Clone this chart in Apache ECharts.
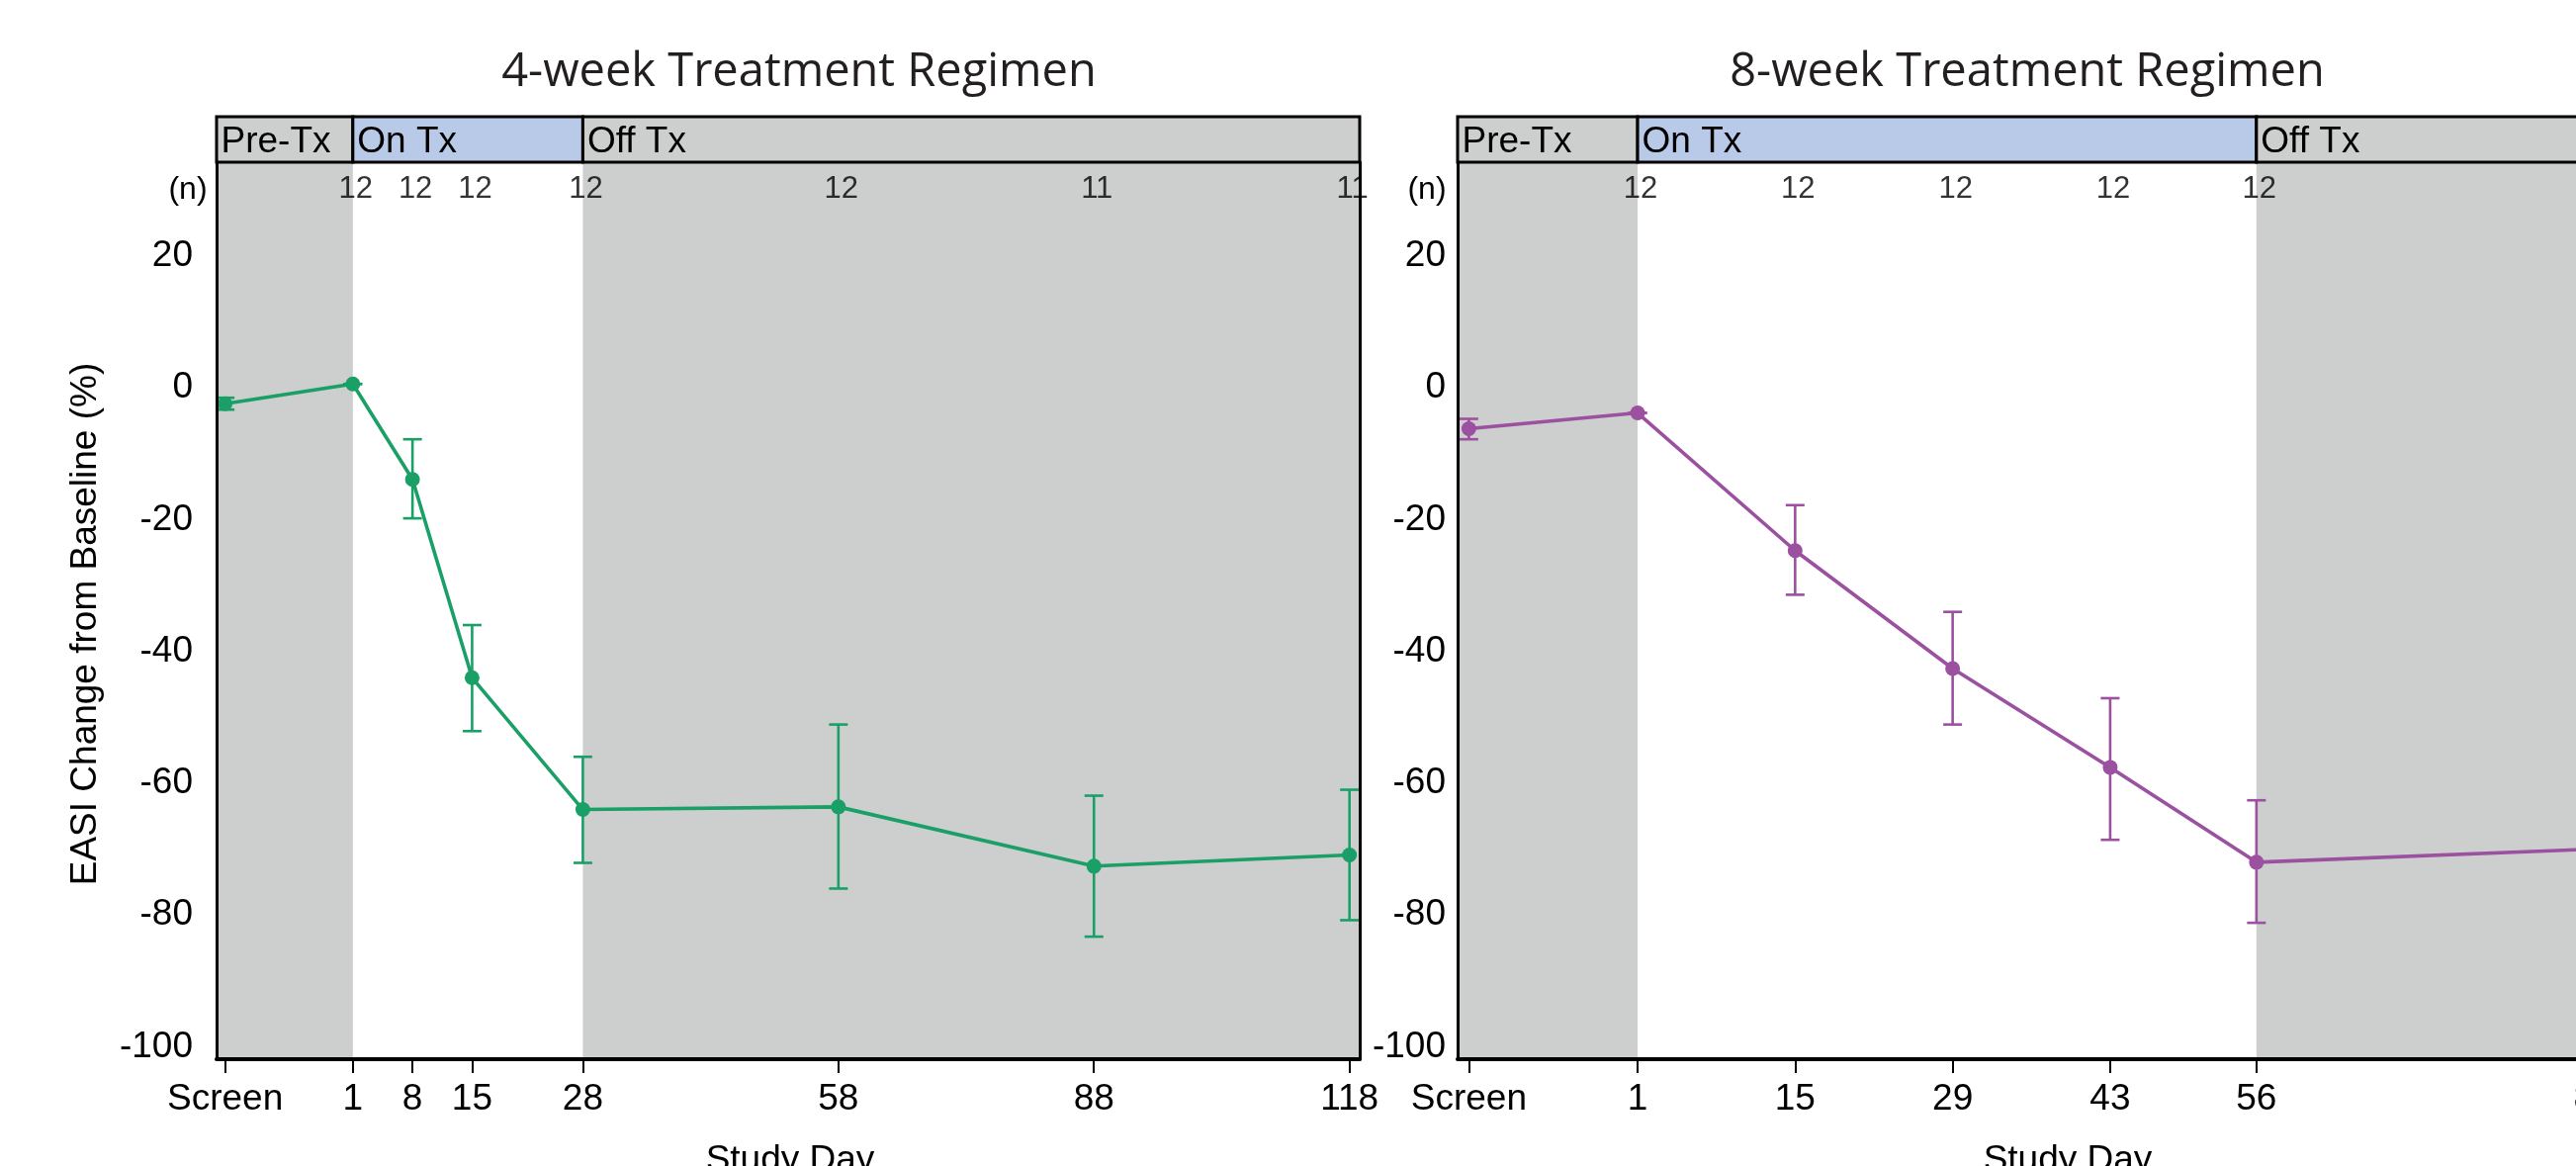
<!DOCTYPE html>
<html>
<head>
<meta charset="utf-8">
<script src="https://cdn.jsdelivr.net/npm/echarts@6/dist/echarts.min.js"></script>
<style>
  html, body { margin: 0; padding: 0; background: #fff; overflow: hidden; }
  #chart { width: 2605px; height: 1179px; }
</style>
</head>
<body>
<div id="chart"></div>
<script>
// 4-week regimen
const days4 = [-14, 1, 8, 15, 28, 58, 88, 118];
const tickText4 = ['Screen', '1', '8', '15', '28', '58', '88', '118'];
const mean4 = [-2.4, 0.6, -13.9, -44.0, -64.0, -63.6, -72.6, -70.9];
const upper4 = [-1.5, 0.6, -7.8, -36.0, -56.0, -51.1, -61.9, -61.0];
const lower4 = [-3.3, 0.6, -19.8, -52.1, -72.1, -76.0, -83.3, -80.8];
const nDays4 = [1, 8, 15, 28, 58, 88, 118];
const n4 = [12, 12, 12, 12, 12, 11, 11];
const phaseEdges4 = [-15, 1, 28, 119.2];

// 8-week regimen
const days8 = [-14, 1, 15, 29, 43, 56, 86];
const tickText8 = ['Screen', '1', '15', '29', '43', '56', '86'];
const mean8 = [-6.2, -3.8, -24.7, -42.6, -57.6, -72.0, -70.0];
const upper8 = [-4.7, -3.8, -17.8, -34.0, -47.1, -62.6, -61.0];
const lower8 = [-7.8, -3.8, -31.4, -51.1, -68.6, -81.2, -79.0];
const nDays8 = [1, 15, 29, 43, 56, 86];
const n8 = [12, 12, 12, 12, 12, 12];
const phaseEdges8 = [-15, 1, 56, 86.6];

const phaseNames = ['Pre-Tx', 'On Tx', 'Off Tx'];
const yTicks = [-100, -80, -60, -40, -20, 0, 20];
const yMin = -101.9, yMax = 34.26, nRowY = 30.1;

const GREEN = '#1a9f67', PURPLE = '#9b50a0';
const GRAY = '#cdcfce', BLUE = '#b9c9e8';
const ARIAL = '"Liberation Sans", Arial, sans-serif';

const chart = echarts.init(document.getElementById('chart'));

function xAxisMain(grid, edges, days, texts) {
  return {
    gridIndex: grid, type: 'value', position: 'bottom', min: edges[0], max: edges[edges.length - 1], z: 10,
    axisLine: { show: true, onZero: false, lineStyle: { color: '#000', width: 4 } },
    axisTick: { show: true, customValues: days, length: 14, lineStyle: { color: '#000', width: 2 } },
    axisLabel: {
      show: true, customValues: days, margin: 22, color: '#000', fontSize: 37, fontFamily: ARIAL,
      formatter: v => texts[days.indexOf(v)]
    },
    splitLine: { show: false }
  };
}
function xAxisHead(grid, edges) {
  return { gridIndex: grid, type: 'value', min: edges[0], max: edges[edges.length - 1], show: false };
}
function yAxisLeft(grid, margin) {
  return {
    gridIndex: grid, type: 'value', position: 'left', min: yMin, max: yMax, z: 10,
    axisLine: { show: true, onZero: false, lineStyle: { color: '#000', width: 3 } },
    axisTick: { show: false },
    axisLabel: { show: true, customValues: yTicks, margin: margin, color: '#000', fontSize: 37, fontFamily: ARIAL },
    splitLine: { show: false }
  };
}
function yAxisRight(grid) {
  return {
    gridIndex: grid, type: 'value', position: 'right', min: yMin, max: yMax, z: 10,
    axisLine: { show: true, onZero: false, lineStyle: { color: '#000', width: 3 } },
    axisTick: { show: false }, axisLabel: { show: false }, splitLine: { show: false }
  };
}

function renderErr(params, api) {
  const x = api.value(0);
  const lo = api.coord([x, api.value(1)]);
  const hi = api.coord([x, api.value(2)]);
  const hw = 9.5;
  const style = { stroke: api.visual('color'), lineWidth: 2.6 };
  return {
    type: 'group',
    children: [
      { type: 'line', shape: { x1: lo[0], y1: lo[1], x2: hi[0], y2: hi[1] }, style: style },
      { type: 'line', shape: { x1: lo[0] - hw, y1: lo[1], x2: lo[0] + hw, y2: lo[1] }, style: style },
      { type: 'line', shape: { x1: hi[0] - hw, y1: hi[1], x2: hi[0] + hw, y2: hi[1] }, style: style }
    ]
  };
}

function panelSeries(xi, yi, hx, hy, edges, days, mean, upper, lower, nDays, nVals, color) {
  return [
    {
      type: 'line', xAxisIndex: xi, yAxisIndex: yi, data: [], z: 1, silent: true,
      markArea: {
        silent: true,
        itemStyle: { color: GRAY },
        data: [
          [{ xAxis: edges[0] }, { xAxis: edges[1] }],
          [{ xAxis: edges[2] }, { xAxis: edges[3] }]
        ]
      }
    },
    {
      type: 'custom', xAxisIndex: xi, yAxisIndex: yi, z: 3, silent: true,
      itemStyle: { color: color },
      renderItem: renderErr,
      data: days.map((d, i) => [d, lower[i], upper[i]])
    },
    {
      type: 'line', xAxisIndex: xi, yAxisIndex: yi, z: 4, silent: true,
      data: days.map((d, i) => [d, mean[i]]),
      symbol: 'circle', symbolSize: 15,
      lineStyle: { color: color, width: 3.6 },
      itemStyle: { color: color }
    },
    {
      type: 'scatter', xAxisIndex: xi, yAxisIndex: yi, z: 5, silent: true,
      symbolSize: 0,
      data: nDays.map((d, i) => [d, nRowY, nVals[i]]),
      label: {
        show: true, position: 'inside', offset: [3, 0],
        color: '#000', fontSize: 31, fontFamily: ARIAL,
        formatter: p => String(p.value[2])
      }
    },
    {
      type: 'line', xAxisIndex: hx, yAxisIndex: hy, data: [], silent: true,
      markArea: {
        silent: true,
        label: {
          show: true, position: 'insideLeft', distance: 6, offset: [0, 3],
          color: '#000', fontSize: 37, fontFamily: ARIAL
        },
        data: phaseNames.map((name, i) => [
          {
            name: name, xAxis: edges[i], yAxis: 0,
            itemStyle: { color: i === 1 ? BLUE : GRAY, borderColor: '#000', borderWidth: 3 }
          },
          { xAxis: edges[i + 1], yAxis: 1 }
        ])
      }
    }
  ];
}

function txt(x, y, text, font, fill, rotation) {
  return {
    type: 'text', x: x, y: y, rotation: rotation || 0, silent: true,
    style: {
      text: text, font: font, fill: fill || '#000',
      align: 'center', verticalAlign: 'middle'
    }
  };
}

const option = {
  animation: false,
  backgroundColor: '#fff',
  grid: [
    { left: 219, top: 164, width: 1156, height: 907, containLabel: false, outerBoundsMode: 'none' },
    { left: 1474, top: 164, width: 1156, height: 907, containLabel: false, outerBoundsMode: 'none' },
    { left: 219, top: 118, width: 1156, height: 46, containLabel: false, outerBoundsMode: 'none' },
    { left: 1474, top: 118, width: 1156, height: 46, containLabel: false, outerBoundsMode: 'none' }
  ],
  xAxis: [
    xAxisMain(0, phaseEdges4, days4, tickText4),
    xAxisMain(1, phaseEdges8, days8, tickText8),
    xAxisHead(2, phaseEdges4),
    xAxisHead(3, phaseEdges8)
  ],
  yAxis: [
    yAxisLeft(0, 24),
    yAxisRight(0),
    yAxisLeft(1, 12),
    yAxisRight(1),
    { gridIndex: 2, type: 'value', min: 0, max: 1, show: false },
    { gridIndex: 3, type: 'value', min: 0, max: 1, show: false }
  ],
  series: [].concat(
    panelSeries(0, 0, 2, 4, phaseEdges4, days4, mean4, upper4, lower4, nDays4, n4, GREEN),
    panelSeries(1, 2, 3, 5, phaseEdges8, days8, mean8, upper8, lower8, nDays8, n8, PURPLE)
  ),
  graphic: [
    txt(808, 74, '4-week Treatment Regimen', '47px "Open Sans"', '#231f20'),
    txt(2050, 74, '8-week Treatment Regimen', '47px "Open Sans"', '#231f20'),
    txt(190, 192, '(n)', '32px ' + ARIAL),
    txt(1443, 192, '(n)', '32px ' + ARIAL),
    txt(87, 631, 'EASI Change from Baseline (%)', '37px ' + ARIAL, '#000', Math.PI / 2),
    txt(799, 1174, 'Study Day', '37px ' + ARIAL),
    txt(2091, 1174, 'Study Day', '37px ' + ARIAL)
  ]
};

chart.setOption(option);
</script>
</body>
</html>
